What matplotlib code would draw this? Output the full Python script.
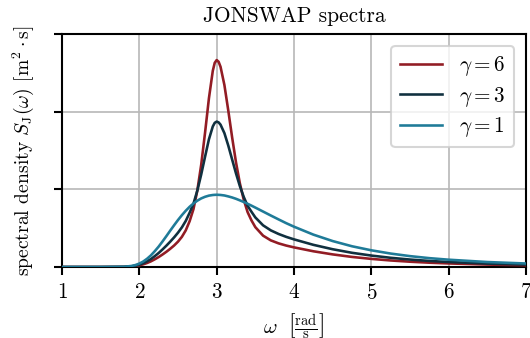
import matplotlib
matplotlib.use("Agg")
import matplotlib.pyplot as plt

plt.rcParams.update({
    "font.family": "serif",
    "font.serif": ["cmr10"],
    "mathtext.fontset": "cm",
    "axes.unicode_minus": False,
    "axes.formatter.use_mathtext": True,
    "font.size": 10,
})

# angular frequency samples [rad/s]
omega = [1.0, 1.5, 1.8, 1.9, 1.95, 2.0, 2.05, 2.1, 2.15, 2.2, 2.25, 2.3, 2.35,
         2.4, 2.45, 2.5, 2.55, 2.6, 2.65, 2.7, 2.75, 2.8, 2.85, 2.9, 2.95,
         2.975, 3.0, 3.025, 3.05, 3.1, 3.15, 3.2, 3.25, 3.3, 3.35, 3.4, 3.45,
         3.5, 3.6, 3.7, 3.8, 3.9, 4.0, 4.25, 4.5, 4.75, 5.0, 5.25, 5.5, 5.75,
         6.0, 6.5, 7.0]

# spectral density for peak enhancement gamma = 1
s_gamma1 = [0.0, 0.0, 0.003, 0.0135, 0.0255, 0.044, 0.0705, 0.106, 0.150,
            0.204, 0.263, 0.329, 0.398, 0.469, 0.538, 0.605, 0.667, 0.724,
            0.775, 0.818, 0.854, 0.883, 0.904, 0.919, 0.927, 0.929, 0.930,
            0.929, 0.9275, 0.921, 0.909, 0.895, 0.878, 0.858, 0.837, 0.814,
            0.790, 0.765, 0.714, 0.663, 0.613, 0.564, 0.519, 0.417, 0.334,
            0.267, 0.215, 0.173, 0.140, 0.114, 0.094, 0.064, 0.045]

# spectral density for gamma = 3
s_gamma3 = [0.0, 0.0, 0.002, 0.0092, 0.0175, 0.0301, 0.0483, 0.0726, 0.1027,
            0.1398, 0.1804, 0.2262, 0.2750, 0.3271, 0.3817, 0.4419, 0.5101,
            0.5929, 0.6979, 0.8156, 0.9842, 1.1908, 1.4210, 1.6444, 1.8097,
            1.8562, 1.8721, 1.8621, 1.8325, 1.7237, 1.5638, 1.3843, 1.2050,
            1.0413, 0.9024, 0.7881, 0.7114, 0.6383, 0.5366, 0.4716, 0.4255,
            0.3878, 0.3558, 0.2855, 0.2287, 0.1828, 0.1472, 0.1185, 0.0959,
            0.0781, 0.0644, 0.0438, 0.0308]

# spectral density for gamma = 6
s_gamma6 = [0.0, 0.0, 0.0015, 0.0066, 0.0124, 0.0214, 0.0342, 0.0515, 0.0729,
            0.0992, 0.1282, 0.1609, 0.1962, 0.2348, 0.2770, 0.3266, 0.3881,
            0.4710, 0.5886, 0.7451, 0.9854, 1.3165, 1.7304, 2.1730, 2.5265,
            2.6291, 2.6646, 2.6426, 2.5779, 2.3434, 2.0157, 1.6685, 1.3471,
            1.0771, 0.8662, 0.7068, 0.6000, 0.5131, 0.4037, 0.3428, 0.3045,
            0.2759, 0.2526, 0.2026, 0.1623, 0.1297, 0.1044, 0.0840, 0.0680,
            0.0554, 0.0457, 0.0311, 0.0219]

series = [
    (s_gamma6, r"$\gamma = 6$", "#921c24"),
    (s_gamma3, r"$\gamma = 3$", "#10303f"),
    (s_gamma1, r"$\gamma = 1$", "#1f7b98"),
]

x_ticks = [1, 2, 3, 4, 5, 6, 7]
y_ticks = [0, 1, 2, 3]

fig = plt.figure(figsize=(530 / 150, 338 / 150), dpi=150)
ax = fig.add_axes([62 / 530, 1 - 267 / 338, 464 / 530, 233 / 338])

for values, label, color in series:
    ax.plot(omega, values, color=color, lw=1.25, label=label, zorder=3)

ax.set_xlim(1, 7)
ax.set_ylim(0, 3)
ax.set_xticks(x_ticks)
ax.set_yticks(y_ticks)
ax.set_yticklabels([])
ax.grid(True, color="#b8b8b8", lw=0.8)
ax.set_axisbelow(True)
for sp in ax.spines.values():
    sp.set_linewidth(1.0)
ax.tick_params(direction="out", length=4, width=1.0, labelsize=10.2)

ax.set_title("JONSWAP spectra", fontsize=10.3, pad=6)
ax.set_xlabel(r"$\omega\ \ \left[\frac{\mathrm{rad}}{\mathrm{s}}\right]$", labelpad=4)
ax.set_ylabel(r"spectral density $S_{\mathrm{J}}(\omega)$ $[\mathrm{m}^2 \cdot \mathrm{s}]$",
              fontsize=9.4, labelpad=5)

ax.legend(loc="upper right", fancybox=True, framealpha=0.8, edgecolor="#cccccc",
          labelspacing=0.3, borderaxespad=0.55, fontsize=10.2)

fig.savefig("out.png", dpi=150)
